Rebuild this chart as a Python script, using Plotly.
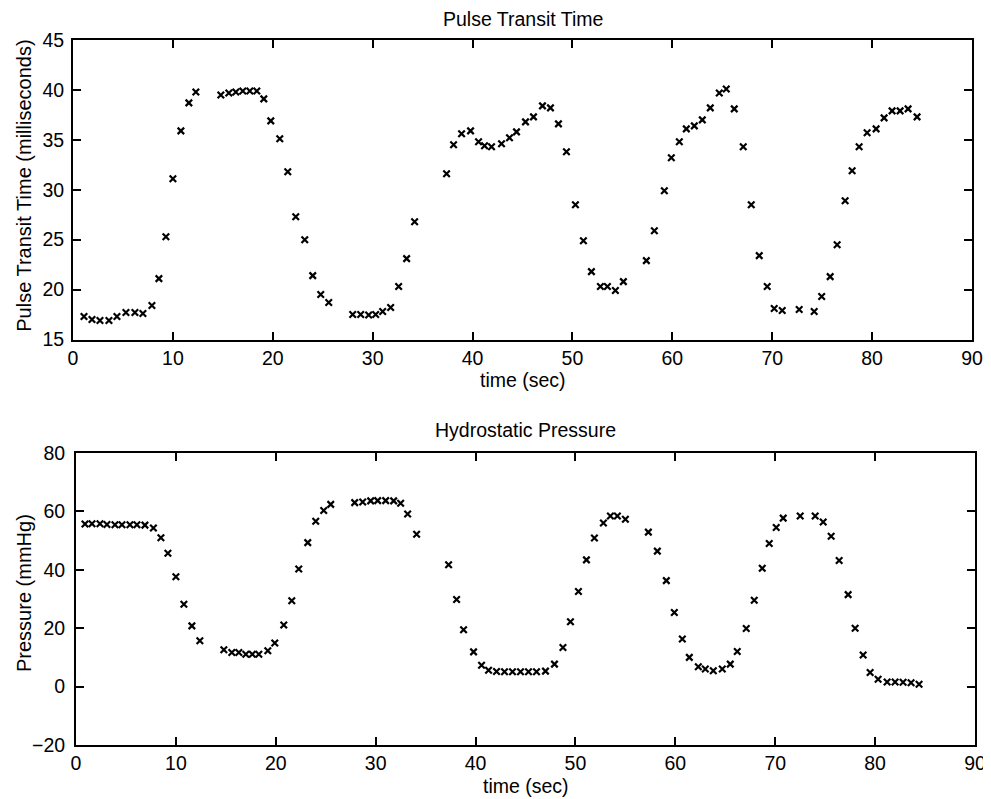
import plotly.graph_objects as go

# ---- Data: Pulse Transit Time ----
ptt_time = [1.1, 1.9, 2.7, 3.6, 4.4, 5.3, 6.2, 7.0, 7.9, 8.6, 9.3, 10.0, 10.8, 11.6, 12.3,
            14.8, 15.6, 16.3, 17.0, 17.7, 18.4, 19.1, 19.8, 20.7, 21.5, 22.3, 23.2, 24.0, 24.8, 25.6,
            28.0, 28.8, 29.6, 30.3, 31.0, 31.8, 32.6, 33.4, 34.2,
            37.4, 38.1, 38.9, 39.8, 40.6, 41.2, 41.9, 42.9, 43.7, 44.4, 45.3, 46.1, 47.0, 47.8,
            48.6, 49.4, 50.3, 51.1, 51.9, 52.8, 53.5, 54.3, 55.1,
            57.4, 58.2, 59.2, 59.9, 60.7, 61.4, 62.2, 63.0, 63.8, 64.7, 65.4, 66.2, 67.1, 67.9,
            68.7, 69.5, 70.2, 71.0,
            72.7,
            74.2, 74.95, 75.8, 76.5, 77.3, 78.0, 78.7, 79.5, 80.4, 81.2, 82.0, 82.8, 83.6, 84.5]
ptt_ms = [17.3, 17.0, 16.9, 16.9, 17.3, 17.7, 17.7, 17.6, 18.4, 21.1, 25.3, 31.1, 35.9, 38.7, 39.8,
          39.5, 39.7, 39.8, 39.9, 39.9, 39.9, 39.1, 36.9, 35.1, 31.8, 27.3, 25.0, 21.4, 19.5, 18.7,
          17.5, 17.5, 17.45, 17.5, 17.8, 18.2, 20.3, 23.1, 26.8,
          31.6, 34.5, 35.6, 35.9, 34.8, 34.4, 34.3, 34.6, 35.2, 35.8, 36.8, 37.3, 38.4, 38.2,
          36.6, 33.8, 28.5, 24.9, 21.8, 20.3, 20.3, 19.9, 20.8,
          22.9, 25.9, 29.9, 33.2, 34.8, 36.1, 36.4, 37.0, 38.2, 39.7, 40.1, 38.1, 34.3, 28.5,
          23.4, 20.3, 18.1, 17.9,
          18.0,
          17.8, 19.3, 21.3, 24.5, 28.9, 31.9, 34.3, 35.7, 36.1, 37.2, 37.9, 37.9, 38.1, 37.3]

# ---- Data: Hydrostatic Pressure ----
hp_time = [0.9, 1.6, 2.4, 3.1, 3.9, 4.6, 5.4, 6.1, 6.9, 7.75, 8.5, 9.2, 10.0, 10.8, 11.6, 12.4,
           14.8, 15.6, 16.3, 17.0, 17.65, 18.3, 19.2, 19.9, 20.8, 21.6, 22.3, 23.2, 24.0, 24.8, 25.5,
           27.9, 28.7, 29.5, 30.2, 31.0, 31.8, 32.5, 33.2, 34.1,
           37.3, 38.1, 38.8, 39.8, 40.6, 41.3, 42.1, 42.9, 43.7, 44.5, 45.3, 46.1, 47.0, 47.9,
           48.75, 49.5, 50.3, 51.1, 51.9, 52.8, 53.5, 54.2, 55.0,
           57.3, 58.2, 59.1, 59.9, 60.7, 61.4, 62.3, 63.0, 63.8, 64.7, 65.5, 66.2, 67.1, 67.9,
           68.7, 69.4, 70.1, 70.8,
           72.5,
           74.0, 74.8, 75.6, 76.4, 77.3, 78.0, 78.8, 79.5, 80.3, 81.2, 82.0, 82.8, 83.6, 84.4]
hp_mmhg = [55.7, 55.8, 55.8, 55.5, 55.4, 55.4, 55.4, 55.4, 55.3, 54.3, 51.0, 45.7, 37.6, 28.2, 20.8, 15.7,
           12.6, 11.7, 11.7, 11.1, 11.1, 11.1, 12.3, 14.9, 21.1, 29.4, 40.3, 49.3, 56.6, 60.3, 62.4,
           63.0, 63.2, 63.6, 63.7, 63.7, 63.6, 62.8, 59.1, 52.2,
           41.7, 29.8, 19.5, 11.9, 7.3, 5.6, 5.2, 5.1, 5.1, 5.1, 5.1, 5.1, 5.3, 7.7,
           13.4, 22.2, 32.6, 43.4, 50.9, 56.0, 58.4, 58.4, 57.3,
           52.9, 46.4, 36.3, 25.4, 16.3, 10.0, 6.8, 6.0, 5.4, 6.0, 7.7, 12.0, 19.9, 29.6,
           40.5, 49.0, 54.5, 57.7,
           58.4,
           58.4, 56.4, 51.5, 43.2, 31.5, 20.0, 10.8, 4.8, 2.5, 1.6, 1.6, 1.5, 1.3, 0.8]

x_ticks = [0, 10, 20, 30, 40, 50, 60, 70, 80, 90]
ptt_ticks = [15, 20, 25, 30, 35, 40, 45]
hp_ticks = [-20, 0, 20, 40, 60, 80]

FONT = "Liberation Sans, Arial, Helvetica, sans-serif"
FS = 19.5
# the page body has an 8px margin, so the figure is drawn 8px in from the
# window corner; size and place it so that it fills the 991x799 window
OFF = 8
W, H = 991 - OFF, 799 - OFF

marker = dict(symbol="x-thin-open", size=6.5, color="black",
              line=dict(width=2.2, color="black"))

fig = go.Figure()
fig.add_trace(go.Scatter(x=ptt_time, y=ptt_ms, mode="markers", marker=marker,
                         xaxis="x", yaxis="y", showlegend=False))
fig.add_trace(go.Scatter(x=hp_time, y=hp_mmhg, mode="markers", marker=marker,
                         xaxis="x2", yaxis="y2", showlegend=False))

axis_common = dict(showline=True, linecolor="black", linewidth=2, mirror="ticks",
                   ticks="inside", ticklen=8, tickwidth=2, tickcolor="black",
                   showgrid=False, zeroline=False, automargin=False,
                   tickfont=dict(family=FONT, size=FS, color="black"))

# plot-area boxes in window pixels (left, right, top, bottom)
top_box = (73, 972, 40, 339.5)
bot_box = (76, 975, 453, 745)


def xdom(b):
    return [(b[0] - OFF) / W, (b[1] - OFF) / W]


def ydom(b):
    return [1 - (b[3] - OFF) / H, 1 - (b[2] - OFF) / H]


fig.update_layout(
    width=W, height=H,
    margin=dict(l=0, r=0, t=0, b=0, autoexpand=False),
    paper_bgcolor="white", plot_bgcolor="white",
    font=dict(family=FONT, color="black", size=FS),
    xaxis=dict(domain=xdom(top_box), anchor="y", range=[0, 90], tickvals=x_ticks,
               ticklabelstandoff=0, **axis_common),
    yaxis=dict(domain=ydom(top_box), anchor="x", range=[15, 45], tickvals=ptt_ticks,
               ticklabelstandoff=3, **axis_common),
    xaxis2=dict(domain=xdom(bot_box), anchor="y2", range=[0, 90], tickvals=x_ticks,
                ticklabelstandoff=0, **axis_common),
    yaxis2=dict(domain=ydom(bot_box), anchor="x2", range=[-20, 80], tickvals=hp_ticks,
                ticklabelstandoff=5, **axis_common),
)

txt = dict(family=FONT, size=FS, color="black")
ann = []
# plot titles
ann.append(dict(text="Pulse Transit Time", xref="x domain", yref="y domain", x=0.5, y=1,
                xanchor="center", yanchor="bottom", yshift=8, showarrow=False, font=txt))
ann.append(dict(text="Hydrostatic Pressure", xref="x2 domain", yref="y2 domain", x=0.5, y=1,
                xanchor="center", yanchor="bottom", yshift=10, showarrow=False, font=txt))
# x-axis titles
ann.append(dict(text="time (sec)", xref="x domain", yref="y domain", x=0.5, y=0,
                xanchor="center", yanchor="middle", yshift=-41, showarrow=False, font=txt))
ann.append(dict(text="time (sec)", xref="x2 domain", yref="y2 domain", x=0.5, y=0,
                xanchor="center", yanchor="middle", yshift=-41, showarrow=False, font=txt))
# y-axis titles
ann.append(dict(text="Pulse Transit Time (milliseconds)", xref="paper", yref="y domain",
                x=(24 - OFF) / W, y=0.5, xanchor="center", yanchor="middle", yshift=4,
                textangle=-90, showarrow=False, font=dict(family=FONT, size=20, color="black")))
ann.append(dict(text="Pressure (mmHg)", xref="paper", yref="y2 domain",
                x=(24 - OFF) / W, y=0.5, xanchor="center", yanchor="middle", yshift=6,
                textangle=-90, showarrow=False, font=dict(family=FONT, size=20, color="black")))
fig.update_layout(annotations=ann)

fig.write_html("out.html")
